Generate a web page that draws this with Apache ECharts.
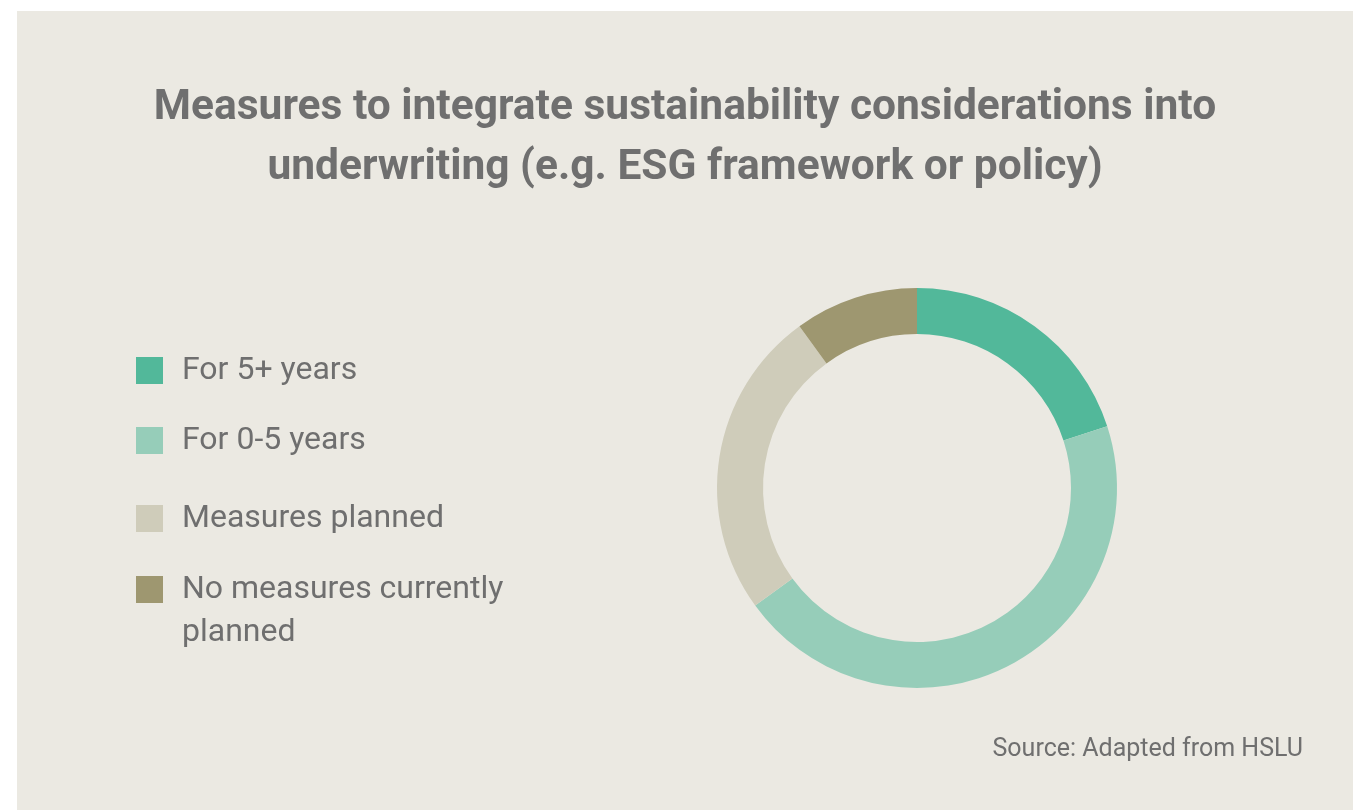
<!DOCTYPE html>
<html>
<head>
<meta charset="utf-8">
<script src="https://cdn.jsdelivr.net/npm/echarts@6/dist/echarts.min.js"></script>
<style>
  html, body { margin: 0; padding: 0; background: #ffffff; width: 1353px; height: 810px; overflow: hidden; }
  #card { position: absolute; left: 17px; top: 11px; width: 1336px; height: 799px; background: #EBE9E2; }
  #chart { width: 100%; height: 100%; }
</style>
</head>
<body>
<div id="card"><div id="chart"></div></div>
<script>
// Share of respondents by status of sustainability measures in underwriting (%)
const categories = ['For 5+ years', 'For 0-5 years', 'Measures planned', 'No measures currently planned'];
const legendLabels = ['For 5+ years', 'For 0-5 years', 'Measures planned', 'No measures currently\nplanned'];
const shares = [20, 45, 25, 10];
const colors = ['#52B89A', '#96CDB9', '#CFCCBA', '#9E9770'];

const textColor = '#6F6F6F';
const legendTops = [338, 408, 486, 514];

const chart = echarts.init(document.getElementById('chart'), null, { renderer: 'canvas' });

// One legend block per entry so each row sits at its own height
const legends = categories.map((name, i) => {
  const label = legendLabels[i];
  // a wrapped label gets an empty leading line so its first line stays level with the swatch
  const text = label.indexOf('\n') >= 0 ? '\n' + label : label;
  return {
    data: [name],
    left: 119,
    top: legendTops[i],
    orient: 'vertical',
    padding: 0,
    icon: 'rect',
    itemWidth: 27,
    itemHeight: 27,
    itemGap: 0,
    selectedMode: false,
    formatter: () => text,
    textStyle: {
      color: textColor,
      fontFamily: 'Roboto',
      fontSize: 32,
      lineHeight: 43,
      padding: [0, 0, 0, 14]
    }
  };
});

chart.setOption({
  animation: false,
  color: colors,
  title: {
    text: 'Measures to integrate sustainability considerations into\nunderwriting (e.g. ESG framework or policy)',
    left: 'center',
    top: 62,
    textStyle: {
      color: textColor,
      fontFamily: 'Roboto',
      fontWeight: 'bold',
      fontSize: 42.5,
      lineHeight: 60
    }
  },
  legend: legends,
  graphic: [{
    type: 'text',
    right: 50,
    top: 726,
    style: {
      text: 'Source: Adapted from HSLU',
      fill: textColor,
      font: '25px Roboto'
    }
  }],
  series: [{
    type: 'pie',
    center: [900, 477],
    radius: [154, 200],
    startAngle: 90,
    clockwise: true,
    avoidLabelOverlap: false,
    label: { show: false },
    labelLine: { show: false },
    emphasis: { disabled: true },
    itemStyle: { borderWidth: 0 },
    data: categories.map((name, i) => ({ name: name, value: shares[i] }))
  }]
});
</script>
</body>
</html>
